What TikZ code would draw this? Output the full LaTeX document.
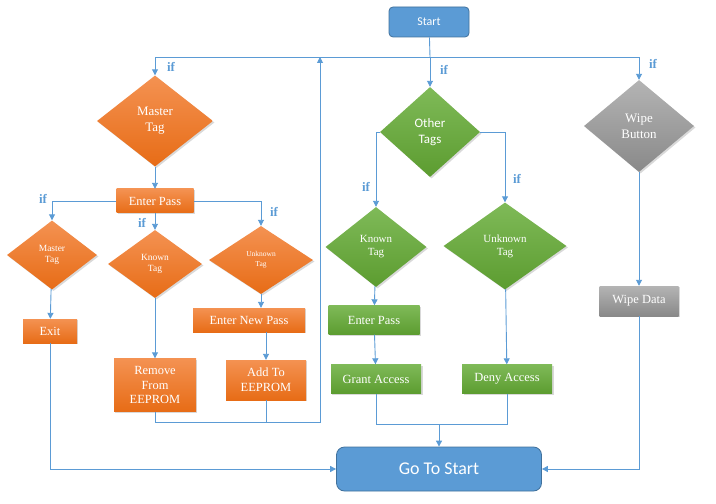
\documentclass[tikz,border=0pt]{standalone}
\usepackage{fontspec}
\setmainfont{Liberation Serif}
\newfontfamily\calibri{Carlito}
\RequirePackage{xcolor}
\definecolor{flowblue}{RGB}{91,155,213}
\definecolor{startedge}{RGB}{65,113,156}
\definecolor{orangetop}{RGB}{244,146,82}
\definecolor{orangebot}{RGB}{231,108,22}
\definecolor{greentop}{RGB}{127,186,88}
\definecolor{greenbot}{RGB}{92,156,48}
\definecolor{graytop}{RGB}{180,180,180}
\definecolor{graybot}{RGB}{137,137,137}
\usetikzlibrary{arrows.meta}
\usetikzlibrary{shapes.geometric}
\usetikzlibrary{shadows}
\tikzset{
  flow/.style={draw=flowblue, line width=0.9pt, -{Triangle[width=6pt,length=6pt]}},
  link/.style={draw=flowblue, line width=0.9pt},
  iflabel/.style={text=flowblue, font=\bfseries\fontsize{13}{13}\selectfont, inner sep=0pt},
  soft/.style={drop shadow={shadow xshift=1.5pt, shadow yshift=-1.5pt, opacity=0.3}},
  obox/.style={rectangle, soft, top color=orangetop, bottom color=orangebot, text=white, inner sep=0pt, align=center},
  gbox/.style={rectangle, soft, top color=greentop, bottom color=greenbot, text=white, inner sep=0pt, align=center},
  kbox/.style={rectangle, soft, top color=graytop, bottom color=graybot, text=white, inner sep=0pt, align=center},
  odia/.style={diamond, soft, top color=orangetop, bottom color=orangebot, text=white, inner sep=0pt, align=center},
  gdia/.style={diamond, soft, top color=greentop, bottom color=greenbot, text=white, inner sep=0pt, align=center},
  kdia/.style={diamond, soft, top color=graytop, bottom color=graybot, text=white, inner sep=0pt, align=center},
  term/.style={rectangle, draw=startedge, line width=0.8pt, fill=flowblue, text=white, inner sep=0pt}
}

\begin{document}
\begin{tikzpicture}[x=1bp, y=-1bp]
  \useasboundingbox (0,0) rectangle (716,504);

  \node [term, rounded corners=4bp, minimum width=80bp, minimum height=30bp, font=\calibri\fontsize{12}{12}\selectfont] (start) at (429,22) {Start};

  % master tag branch
  \node [odia, minimum width=116bp, minimum height=91bp, font=\fontsize{13}{16}\selectfont] (mtag) at (155,121) {Master\\Tag};
  \node [obox, minimum width=77bp, minimum height=24bp, font=\fontsize{12.5}{15}\selectfont] (epass) at (155,201) {Enter Pass};
  \node [odia, minimum width=90bp, minimum height=69bp, font=\fontsize{9.5}{11}\selectfont] (smtag) at (52,255) {Master\\Tag};
  \node [odia, minimum width=94bp, minimum height=68bp, font=\fontsize{9.5}{11}\selectfont] (ktag) at (155,264) {Known\\Tag};
  \node [odia, minimum width=104bp, minimum height=68bp, font=\fontsize{7.5}{10}\selectfont] (utag) at (261,260) {Unknown\\Tag};
  \node [obox, minimum width=54bp, minimum height=24bp, font=\fontsize{12.5}{15}\selectfont] (exit) at (50,331) {Exit};
  \node [obox, minimum width=112bp, minimum height=24bp, font=\fontsize{12.5}{15}\selectfont] (enp) at (249,320) {Enter New Pass};
  \node [obox, minimum width=82bp, minimum height=53bp, font=\fontsize{12.5}{15}\selectfont] (remove) at (155,385) {Remove\\From\\EEPROM};
  \node [obox, minimum width=80bp, minimum height=40bp, font=\fontsize{12.5}{15}\selectfont] (add) at (266,380) {Add To\\EEPROM};

  % other tags branch
  \node [gdia, minimum width=100bp, minimum height=90bp, font=\calibri\fontsize{13}{16}\selectfont] (other) at (430,132) {Other\\Tags};
  \node [gdia, minimum width=101bp, minimum height=80bp, font=\fontsize{11}{13}\selectfont] (gktag) at (376,247) {Known\\Tag};
  \node [gdia, minimum width=123bp, minimum height=87bp, font=\fontsize{11}{13}\selectfont] (gutag) at (505,246) {Unknown\\Tag};
  \node [gbox, minimum width=91bp, minimum height=29bp, font=\fontsize{12.5}{15}\selectfont] (gpass) at (374,320) {Enter Pass};
  \node [gbox, minimum width=90bp, minimum height=29bp, font=\fontsize{12.5}{15}\selectfont] (grant) at (376,379) {Grant Access};
  \node [gbox, minimum width=90bp, minimum height=29bp, font=\fontsize{12.5}{15}\selectfont] (deny) at (507,379) {Deny Access};

  % wipe branch
  \node [kdia, minimum width=110bp, minimum height=92bp, font=\fontsize{13}{16}\selectfont] (wipe) at (639,126) {Wipe\\Button};
  \node [kbox, minimum width=79bp, minimum height=30bp, font=\fontsize{12.5}{15}\selectfont] (wdata) at (639,301) {Wipe Data};

  \node [term, rounded corners=8bp, minimum width=205bp, minimum height=44bp, font=\calibri\fontsize{18}{18}\selectfont] (goto) at (439,469) {Go To Start};

  \coordinate (split) at (430,57);
  \coordinate (ret) at (320,422);
  \coordinate (join) at (439,424);

  \draw [link] (start) -- (split);
  \draw [flow] (split) -| (mtag);
  \draw [flow] (split) -| (wipe);
  \draw [flow] (split) -- (other);

  \draw [flow] (mtag) -- (epass);
  \draw [flow] (epass.west) -| (smtag);
  \draw [flow] (epass) -- (ktag);
  \draw [flow] (epass.east) -| (utag);
  \draw [flow] (smtag) -- (exit);
  \draw [flow] (ktag) -- (remove);
  \draw [flow] (utag) -- (utag |- enp.north);
  \draw [flow] (enp.south -| add) -- (add);
  \draw [flow] (remove) |- (ret) -- (ret |- split);
  \draw [link] (add) -- (add |- ret);
  \draw [flow] (exit) |- (goto);

  \draw [flow] (other.west) -| (gktag);
  \draw [flow] (other.east) -| (gutag);
  \draw [flow] (gktag) -- (gpass);
  \draw [flow] (gpass) -- (grant);
  \draw [flow] (gutag) -- (deny);
  \draw [link] (grant) |- (join);
  \draw [link] (deny) |- (join);
  \draw [flow] (join) -- (goto);

  \draw [flow] (wipe) -- (wdata);
  \draw [flow] (wdata) |- (goto);

  \node [iflabel] (if1) at (171,67) {if};
  \node [iflabel] (if2) at (444,70) {if};
  \node [iflabel] (if3) at (653,64) {if};
  \node [iflabel] (if4) at (43,199) {if};
  \node [iflabel] (if5) at (142,223) {if};
  \node [iflabel] (if6) at (274,212) {if};
  \node [iflabel] (if7) at (366,187) {if};
  \node [iflabel] (if8) at (517,179) {if};

\end{tikzpicture}
\end{document}
